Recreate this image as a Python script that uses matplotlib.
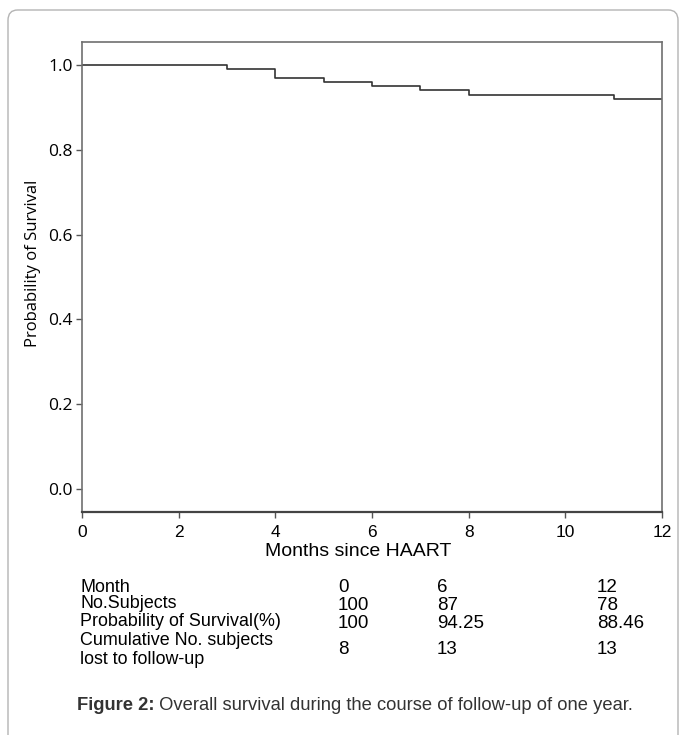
import numpy as np
import matplotlib
matplotlib.use("Agg")
import matplotlib.pyplot as plt
from matplotlib.patches import FancyBboxPatch

# Kaplan-Meier step values (month of drop, survival after drop)
months = [0, 3, 4, 5, 6, 7, 8, 11, 12]
survival = [1.0, 0.99, 0.97, 0.96, 0.95, 0.94, 0.93, 0.92, 0.92]

xticks = [0, 2, 4, 6, 8, 10, 12]
yticks = [0.0, 0.2, 0.4, 0.6, 0.8, 1.0]

# table under the plot
row_labels = ["Month", "No.Subjects", "Probability of Survival(%)",
              "Cumulative No. subjects\nlost to follow-up"]
col_month = ["0", "100", "100", "8"]
col_6 = ["6", "87", "94.25", "13"]
col_12 = ["12", "78", "88.46", "13"]

caption_bold = "Figure 2:"
caption_text = " Overall survival during the course of follow-up of one year."

sans = ["Liberation Sans", "DejaVu Sans"]
humanist = ["Open Sans", "DejaVu Sans"]

W, H = 683, 735
fig = plt.figure(figsize=(W / 100, H / 100), dpi=100)

def fx(px):
    return px / W

def fy(py):
    return 1 - py / H

# outer rounded frame, open at the bottom
frame = FancyBboxPatch((fx(8), -0.1), fx(678 - 8), fy(10) + 0.1,
                       boxstyle="round,pad=0,rounding_size=0.014",
                       transform=fig.transFigure, fill=False,
                       edgecolor="#b4b4b4", linewidth=1.0)
fig.patches.append(frame)

ax = fig.add_axes([fx(82), fy(512), fx(662 - 82), (512 - 42) / H])
ax.step(months, survival, where="post", color="#333333", linewidth=1.2)
ax.set_xlim(0, 12)
ax.set_ylim(-0.054, 1.054)
ax.set_xticks(xticks)
ax.set_yticks(yticks)
ax.set_xticklabels([str(t) for t in xticks], family=sans, fontsize=12.5)
ax.set_yticklabels(["%.1f" % t for t in yticks], family=humanist, fontsize=12.5)
ax.tick_params(direction="out", length=4.5, width=1.0, color="#555555")
ax.tick_params(axis="x", pad=5)
ax.tick_params(axis="y", pad=2)
for s in ax.spines.values():
    s.set_color("#707070")
    s.set_linewidth(1.2)
ax.spines["bottom"].set_color("#444444")
ax.spines["bottom"].set_linewidth(1.6)

fig.text(fx(358), fy(552), "Months since HAART", family=sans,
         fontsize=14, ha="center", va="center")
fig.text(fx(33), fy(263), "Probability of Survival", family=humanist,
         fontsize=12, ha="center", va="center", rotation=90)

# table
label_y = [587, 604, 622, 650]
value_y = [587, 605, 624, 649]
for lab, ly in zip(row_labels, label_y):
    fig.text(fx(80), fy(ly), lab, family=sans, fontsize=12.9,
             ha="left", va="center", linespacing=1.12)
for col, cx in zip([col_month, col_6, col_12], [338, 437, 597]):
    for v, vy in zip(col, value_y):
        fig.text(fx(cx), fy(vy), v, family=sans, fontsize=13.5,
                 ha="left", va="center")

t = fig.text(fx(77), fy(705), caption_bold, family=sans, fontsize=13.2,
             weight="bold", color="#333333", ha="left", va="center")
fig.canvas.draw()
bb = t.get_window_extent()
fig.text(bb.x1 / W, fy(705), caption_text, family=sans, fontsize=13.2,
         color="#333333", ha="left", va="center")

fig.savefig("out.png", dpi=100)
